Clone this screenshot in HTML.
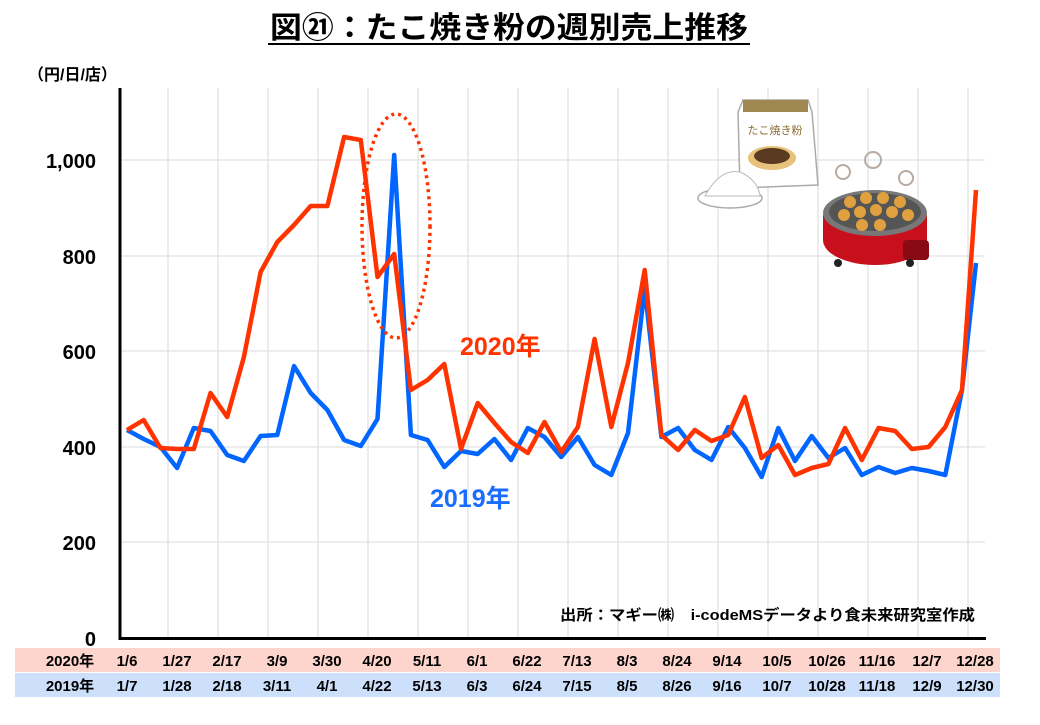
<!DOCTYPE html>
<html><head><meta charset="utf-8"><style>
html,body{margin:0;padding:0;background:#fff;}
body{width:1040px;height:720px;overflow:hidden;}
</style></head><body>
<svg width="1040" height="720" viewBox="0 0 1040 720" xmlns="http://www.w3.org/2000/svg" font-family="Liberation Sans, Noto Sans CJK JP, sans-serif">
<text x="509" y="38" text-anchor="middle" font-size="30" font-weight="bold" fill="#000" textLength="478" lengthAdjust="spacingAndGlyphs">図㉑：たこ焼き粉の週別売上推移</text>
<line x1="268" y1="44" x2="750" y2="44" stroke="#000" stroke-width="2"/>
<text x="28" y="80" font-size="16" font-weight="bold">（円/日/店）</text>
<g stroke="#e2e2e2" stroke-width="1.3">
<line x1="120" y1="160" x2="985" y2="160"/><line x1="120" y1="256" x2="985" y2="256"/><line x1="120" y1="351" x2="985" y2="351"/><line x1="120" y1="447" x2="985" y2="447"/><line x1="120" y1="542" x2="985" y2="542"/>
<line x1="168" y1="88" x2="168" y2="638"/><line x1="218" y1="88" x2="218" y2="638"/><line x1="268" y1="88" x2="268" y2="638"/><line x1="318" y1="88" x2="318" y2="638"/><line x1="368" y1="88" x2="368" y2="638"/><line x1="418" y1="88" x2="418" y2="638"/><line x1="468" y1="88" x2="468" y2="638"/><line x1="518" y1="88" x2="518" y2="638"/><line x1="568" y1="88" x2="568" y2="638"/><line x1="618" y1="88" x2="618" y2="638"/><line x1="668" y1="88" x2="668" y2="638"/><line x1="718" y1="88" x2="718" y2="638"/><line x1="768" y1="88" x2="768" y2="638"/><line x1="818" y1="88" x2="818" y2="638"/><line x1="868" y1="88" x2="868" y2="638"/><line x1="918" y1="88" x2="918" y2="638"/><line x1="968" y1="88" x2="968" y2="638"/>
</g>
<g font-size="20" font-weight="bold" text-anchor="end">
<text x="96" y="168">1,000</text><text x="96" y="264">800</text><text x="96" y="359">600</text><text x="96" y="455">400</text><text x="96" y="550">200</text><text x="96" y="646">0</text>
</g>
<line x1="120" y1="88" x2="120" y2="640" stroke="#000" stroke-width="3"/>
<line x1="119" y1="638.5" x2="986" y2="638.5" stroke="#000" stroke-width="3"/>
<g>
<path d="M743 100 L808 100 L812 112 L818 185 L740 188 L738 112 Z" fill="#fff" stroke="#aaa" stroke-width="1.5"/>
<rect x="743" y="100" width="65" height="12" fill="#a08850"/>
<text x="775" y="134" text-anchor="middle" font-size="11" fill="#8a6a30">たこ焼き粉</text>
<ellipse cx="772" cy="158" rx="24" ry="12" fill="#e6c27a"/>
<ellipse cx="772" cy="156" rx="18" ry="8" fill="#5a3a20"/>
<ellipse cx="730" cy="198" rx="32" ry="10" fill="#fff" stroke="#aaa" stroke-width="1.5"/>
<path d="M705 196 Q720 168 740 172 Q758 180 760 196 Z" fill="#fff" stroke="#bbb"/>
<ellipse cx="875" cy="240" rx="52" ry="25" fill="#c8101c"/>
<rect x="823" y="215" width="104" height="25" fill="#c8101c"/>
<ellipse cx="875" cy="213" rx="52" ry="23" fill="#777"/>
<ellipse cx="875" cy="212" rx="46" ry="19" fill="#555"/>
<g fill="#e0a040"><circle cx="850" cy="202" r="6"/><circle cx="866" cy="198" r="6"/><circle cx="883" cy="198" r="6"/><circle cx="900" cy="202" r="6"/><circle cx="844" cy="215" r="6"/><circle cx="860" cy="212" r="6"/><circle cx="876" cy="210" r="6"/><circle cx="892" cy="212" r="6"/><circle cx="908" cy="215" r="6"/><circle cx="862" cy="225" r="6"/><circle cx="880" cy="225" r="6"/></g>
<rect x="903" y="240" width="26" height="20" rx="4" fill="#8a0a14"/>
<circle cx="838" cy="263" r="4" fill="#222"/><circle cx="910" cy="263" r="4" fill="#222"/>
<g fill="none" stroke="#b8aaa0" stroke-width="2"><circle cx="843" cy="172" r="7"/><circle cx="873" cy="160" r="8"/><circle cx="906" cy="178" r="7"/></g>
</g>
<polyline fill="none" stroke="#0066ff" stroke-width="4.5" stroke-linejoin="round" points="127,430 143.7,439 160.4,447 177.1,468 193.8,428 210.5,431 227.2,455 243.9,461 260.6,436 277.3,435 294,366 310.7,393 327.4,410 344.1,440 360.8,446 377.5,419 394.2,155 410.9,435 427.6,440 444.3,467 461,451 477.7,454 494.4,439 511.1,460 527.8,428 544.5,437 561.2,457 577.9,437 594.6,465 611.3,475 628,433 644.7,288 661.4,437 678.1,428 694.8,450 711.5,460 728.2,427 744.9,448 761.6,477 778.3,428 795,461 811.7,436 828.4,458 845.1,448 861.8,475 878.5,467 895.2,473 911.9,468 928.6,471 945.3,475 962,390 976,263"/>
<polyline fill="none" stroke="#ff3300" stroke-width="4.5" stroke-linejoin="round" points="127,430 143.7,420 160.4,448 177.1,449 193.8,449 210.5,393 227.2,417 243.9,357 260.6,272 277.3,242 294,225 310.7,206 327.4,206 344.1,137 360.8,140 377.5,277 394.2,254 410.9,390 427.6,380 444.3,364 461,449 477.7,403 494.4,423 511.1,442 527.8,453 544.5,422 561.2,452 577.9,427 594.6,339 611.3,427 628,363 644.7,270 661.4,435 678.1,450 694.8,430 711.5,441 728.2,435 744.9,397 761.6,458 778.3,445 795,475 811.7,468 828.4,464 845.1,428 861.8,460 878.5,428 895.2,431 911.9,449 928.6,447 945.3,427 962,390 976,190"/>
<ellipse cx="396" cy="226" rx="34" ry="112" fill="none" stroke="#ff3300" stroke-width="3.5" stroke-dasharray="3 4"/>
<text x="460" y="355" font-size="25" font-weight="bold" fill="#ff3300">2020年</text>
<text x="430" y="507" font-size="25" font-weight="bold" fill="#1a6cff">2019年</text>
<text x="975" y="620" text-anchor="end" font-size="15" font-weight="bold" textLength="415" lengthAdjust="spacingAndGlyphs">出所：マギー㈱　i-codeMSデータより食未来研究室作成</text>
<rect x="15" y="648" width="985" height="24" fill="#fdd5cc"/>
<rect x="15" y="673" width="985" height="24" fill="#cde0fb"/>
<g font-size="15" font-weight="bold" text-anchor="middle">
<text x="70" y="666">2020年</text><text x="70" y="691">2019年</text>
<text x="127" y="666">1/6</text><text x="177" y="666">1/27</text><text x="227" y="666">2/17</text><text x="277" y="666">3/9</text><text x="327" y="666">3/30</text><text x="377" y="666">4/20</text><text x="427" y="666">5/11</text><text x="477" y="666">6/1</text><text x="527" y="666">6/22</text><text x="577" y="666">7/13</text><text x="627" y="666">8/3</text><text x="677" y="666">8/24</text><text x="727" y="666">9/14</text><text x="777" y="666">10/5</text><text x="827" y="666">10/26</text><text x="877" y="666">11/16</text><text x="927" y="666">12/7</text><text x="975" y="666">12/28</text>
<text x="127" y="691">1/7</text><text x="177" y="691">1/28</text><text x="227" y="691">2/18</text><text x="277" y="691">3/11</text><text x="327" y="691">4/1</text><text x="377" y="691">4/22</text><text x="427" y="691">5/13</text><text x="477" y="691">6/3</text><text x="527" y="691">6/24</text><text x="577" y="691">7/15</text><text x="627" y="691">8/5</text><text x="677" y="691">8/26</text><text x="727" y="691">9/16</text><text x="777" y="691">10/7</text><text x="827" y="691">10/28</text><text x="877" y="691">11/18</text><text x="927" y="691">12/9</text><text x="975" y="691">12/30</text>
</g>
</svg>
</body></html>
